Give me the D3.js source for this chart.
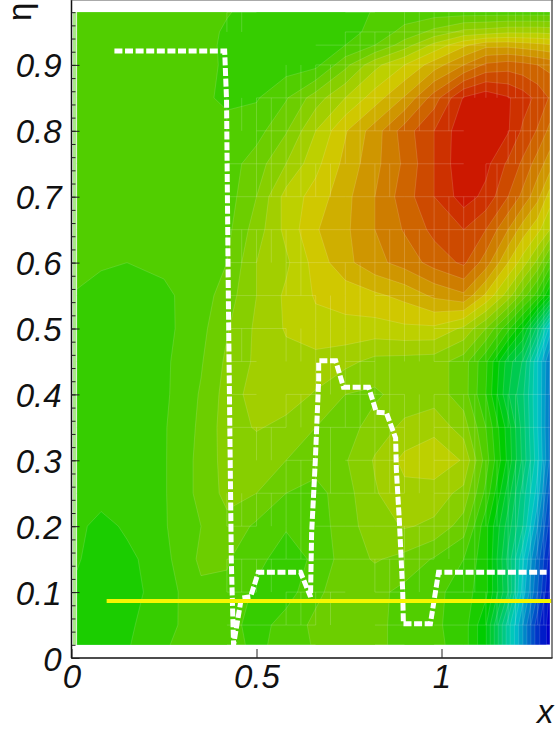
<!DOCTYPE html>
<html><head><meta charset="utf-8">
<script src="https://cdnjs.cloudflare.com/ajax/libs/d3/7.8.5/d3.min.js"></script>
<style>html,body{margin:0;padding:0;background:#fff}svg{display:block}
text{font-family:"Liberation Sans",Arial,sans-serif;font-style:italic;font-size:33px;fill:#111}</style>
</head><body><svg id="c" width="556" height="731"></svg>
<script>
const xCols=[0.015,0.08,0.15,0.25,0.35,0.42,0.5,0.58,0.66,0.74,0.82,0.9,0.98,1.06,1.12,1.18,1.22,1.26,1.293];
const etaRows=[0.98,0.95,0.93,0.9,0.85,0.8,0.75,0.7,0.65,0.6,0.55,0.5,0.45,0.4,0.35,0.3,0.25,0.2,0.15,0.1,0.05,0.02];
const fieldRows=[
[18,18,18,18,18,17.6,17,17,17,17,17.6,18,18,18,18,18,18,18,18],
[18,18,18,18,18,17.3,16.9,16.9,16.9,17,17.9,18.8,19.8,20.8,21,21.3,21.3,21.3,21.2],
[18,18,18,18,18,17.2,16.9,16.9,16.9,17.5,18.5,20,21.8,23.3,24.2,24.2,24,23.8,23.6],
[18,18,18,18,17.9,17.3,17,17,17.2,19.2,21.2,22.5,24,25.5,26.7,27,26.8,26.5,26.2],
[18,18,18,18,17.8,17.2,17.4,18.4,20,21.5,23,24.6,27,29.6,30.2,29.6,29,28.2,27.4],
[18,18,18,18,18,18,18.1,19.4,21.5,23.4,25,27,28.5,30.2,30.4,29.6,28.3,27.4,26.2],
[18,18,18,18,18,18,19,20.5,22.2,23.8,25.2,26.7,28.5,30.3,29.8,28.3,27.3,26,25],
[18,18,18,18,18,18,19.5,21.9,22.9,24.2,25.5,27,28.5,30,29.2,27.5,26.2,24.8,23],
[18,18,18,18,18,18.2,20,21.8,23.4,24.3,25.5,26.6,27.8,28.5,27.5,25.5,24,22.8,21.5],
[17.9,17.6,17.5,17.7,18,18.5,20.5,21.3,22.9,24.2,25.2,25.9,26.9,27.7,26,23.5,22,20.2,18],
[17.4,17.2,17,17.3,18,19,20.5,21.7,22.6,22.9,23.3,23.8,24.7,25.3,23.3,21,19,17,14.5],
[17.2,17,17,17.2,18.2,19.4,20.7,21.6,22.2,22.2,22.1,22.3,22.3,21.3,19.5,16.8,14.6,11,7],
[17.3,17,17,17.3,18.4,19.7,20.7,21.2,21.1,20.8,20.2,20.1,20,19,16.7,13,11.4,7.5,4.5],
[17.3,17,17,17.3,18.6,19.9,21,21,20.4,19.5,19.3,20,20,19,16.5,12.6,10.7,7.5,4.3],
[17.3,17,17,17.4,18.7,20,20.6,20.2,19.5,19,20,20.7,21.2,20,17.5,14,11,7.5,4.2],
[17.3,17,17,17.4,18.8,19.9,19.8,19.5,19,19.4,20.6,21.8,22.2,21.4,18,14.2,11.2,7.8,4.3],
[17.3,17,17,17.4,18.8,19.8,19.5,18.5,18.1,19.1,20.4,21.2,21,20.2,17.2,13,10,7,3],
[16.8,16.1,16.7,17.4,18.5,19.2,18.3,17.6,17.9,19.1,20,20.6,20.3,19,15.8,12,9.5,5.5,2],
[16.6,16,16.2,17.2,18.7,18.6,17.8,17,17.7,19,19.6,19.2,18.4,17.5,15.8,11.2,7.7,4,1],
[16.3,16,16.1,17,18.3,18.3,17.3,17,18.3,19,18.8,18.2,17.8,17,15.8,11.5,7,3.5,0.3],
[16.2,15.9,16.3,17.2,18,18,17,18,18.7,19,18.8,18.1,17.7,17,14.6,9,5.5,1.8,0],
[16.2,15.9,16.4,17.4,18,18,17.2,18,18.6,19,18.8,18.1,17.8,17,14.6,9,5.5,1.8,0]
];
const dashX=[0.116,0.414,0.419,0.424,0.432,0.438,0.459,0.484,0.505,0.619,0.646,0.649,0.659,0.668,0.668,0.714,0.735,0.803,0.824,0.851,0.876,0.878,0.886,0.895,0.897,0.970,0.992,1.284];
const dashEta=[0.921,0.921,0.847,0.543,0.146,0.02,0.091,0.093,0.13,0.13,0.093,0.19,0.30,0.422,0.451,0.451,0.411,0.411,0.373,0.372,0.334,0.285,0.209,0.103,0.052,0.052,0.13,0.13];
const yellowX=[0.095,1.297];
const yellowEta=[0.0865,0.0865];
const xTicks=[0,0.5,1];
const etaTicks=[0,0.1,0.2,0.3,0.4,0.5,0.6,0.7,0.8,0.9];

const W=556,H=731,ox=71.5,oy=658;
const x=d3.scaleLinear().domain([0,1.3]).range([ox,ox+481]);
const y=d3.scaleLinear().domain([0,1]).range([oy,oy-659]);
const svg=d3.select("#c");

const nx=xCols.length,ny=etaRows.length;
const cx=d3.scaleLinear().domain(d3.range(nx)).range(xCols).clamp(true);
const cy=d3.scaleLinear().domain(d3.range(ny)).range(etaRows).clamp(true);
const color=d3.scaleLinear().domain([0,7.5,15,22.7,30]).range(["#0000c8","#00c8c8","#00cc00","#d0d000","#cc1800"]).clamp(true);
const values=fieldRows.flat();
const levels=d3.range(0,31);
const bands=d3.contours().size([nx,ny]).thresholds(levels.map(l=>l-0.5))(values);
const toPath=d3.geoPath(d3.geoTransform({point(px,py){
  this.stream.point(x(cx(px-0.5)),y(cy(py-0.5)));
}}));

// light strip left of the field
svg.append("rect").attr("x",x(0)+1.5).attr("y",y(etaRows[0])).attr("width",x(xCols[0])-x(0)-1.5)
  .attr("height",y(etaRows[ny-1])-y(etaRows[0])).attr("fill","#a8e888");

const g=svg.append("g");
g.selectAll("path.band").data(bands).join("path").attr("class","band")
  .attr("d",d=>toPath(d)).attr("fill",d=>color(d.value+0.5))
  .attr("stroke","#ffffff").attr("stroke-opacity",0.2).attr("stroke-width",0.7);

// faint mesh segments where an iso-line crosses a field cell
const crosses=(a,b)=>Math.floor(a+0.5)!==Math.floor(b+0.5);
const mesh=[];
for(let j=0;j<ny;j++)for(let i=0;i<nx-1;i++){
  if(crosses(fieldRows[j][i],fieldRows[j][i+1])&&i>4)
    mesh.push([xCols[i],etaRows[j],xCols[i+1],etaRows[j]]);
}
for(let i=5;i<nx;i++)for(let j=0;j<ny-1;j++){
  const a=fieldRows[j][i],b=fieldRows[j+1][i];
  if(crosses(a,b)){
    mesh.push([xCols[i],etaRows[j],xCols[i],etaRows[j+1]]);
    if(i<nx-1){const xm=(xCols[i]+xCols[i+1])/2;mesh.push([xm,etaRows[j],xm,etaRows[j+1]]);}
  }
}
g.selectAll("line.mesh").data(mesh).join("line").attr("class","mesh")
  .attr("x1",d=>x(d[0])).attr("y1",d=>y(d[1])).attr("x2",d=>x(d[2])).attr("y2",d=>y(d[3]))
  .attr("stroke","#fff").attr("stroke-opacity",0.22).attr("stroke-width",0.8);

// curves
const line=d3.line().x(d=>x(d[0])).y(d=>y(d[1]));
svg.append("path").attr("d",line(d3.zip(dashX,dashEta))).attr("fill","none")
  .attr("stroke","#fff").attr("stroke-width",5).attr("stroke-dasharray","8,2.6");
svg.append("path").attr("d",line(d3.zip(yellowX,yellowEta))).attr("fill","none")
  .attr("stroke","#f6f600").attr("stroke-width",4);

// frame
const ax=svg.append("g").attr("stroke","#111").attr("fill","none");
ax.append("line").attr("x1",ox).attr("x2",x(1.3)).attr("y1",oy).attr("y2",oy).attr("stroke-width",1.5);
ax.append("line").attr("x1",ox).attr("x2",ox).attr("y1",oy).attr("y2",0).attr("stroke-width",1.5);
ax.append("line").attr("x1",x(1.3)-0.5).attr("x2",x(1.3)-0.5).attr("y1",oy).attr("y2",0).attr("stroke-width",1.2).attr("stroke","#333");
ax.append("line").attr("x1",ox).attr("x2",x(1.3)).attr("y1",0.5).attr("y2",0.5).attr("stroke-width",1).attr("stroke","#555").attr("stroke-dasharray","1,1");

// axes
const xAxis=d3.axisBottom(x).tickValues(xTicks).tickSize(-9).tickPadding(0).tickFormat(d3.format("~g"));
const gx=svg.append("g").attr("transform",`translate(0,${oy})`).call(xAxis);
gx.select(".domain").remove();
gx.selectAll("line").attr("stroke","#222").attr("stroke-width",1);
gx.selectAll("text").attr("y",30).attr("dy",0).attr("text-anchor","middle");
const yAxis=d3.axisLeft(y).tickValues(etaTicks).tickSize(-8).tickPadding(0).tickFormat(d3.format("~g"));
const gy=svg.append("g").attr("transform",`translate(${ox},0)`).call(yAxis);
gy.select(".domain").remove();
gy.selectAll("line").attr("stroke","#222").attr("stroke-width",1);
gy.selectAll("text").attr("x",-10).attr("dy",12).attr("text-anchor","end");
const minor=d3.axisLeft(y).tickValues(d3.range(0,50).map(i=>i/50)).tickSize(-4).tickFormat("");
const gm=svg.append("g").attr("transform",`translate(${ox},0)`).call(minor);
gm.select(".domain").remove();
gm.selectAll("line").attr("stroke","#222").attr("stroke-width",1);

svg.append("text").attr("x",537).attr("y",723).text("x");
svg.append("text").attr("transform","translate(31,21) rotate(-90)").style("font-style","normal").text("η");
</script></body></html>
